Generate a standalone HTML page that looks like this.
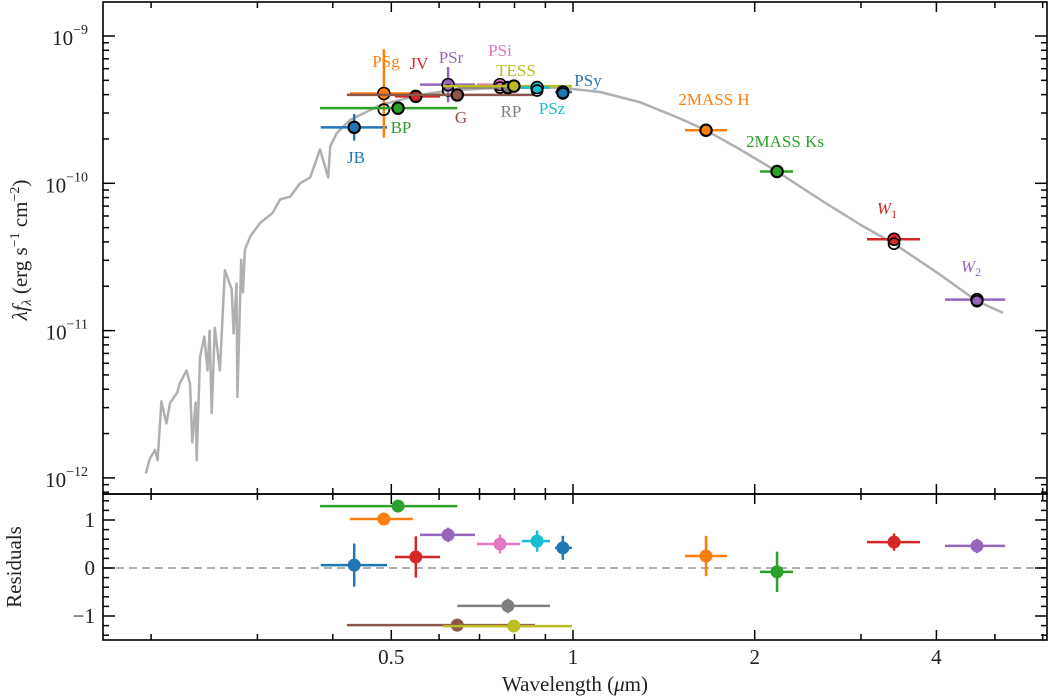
<!DOCTYPE html>
<html><head><meta charset="utf-8"><style>
html,body{margin:0;padding:0;background:#fff;}
svg{display:block;font-family:"Liberation Serif","DejaVu Serif",serif;}
</style></head><body>
<svg id="chart" width="1050" height="698" viewBox="0 0 1050 698"></svg>
<script>
// ---- data ----
const specWave=[0.196,0.199,0.203,0.205,0.208,0.212,0.215,0.221,0.223,0.229,0.232,0.234,0.237,0.238,0.241,0.245,0.248,0.250,0.252,0.255,0.260,0.265,0.272,0.274,0.277,0.278,0.282,0.284,0.286,0.292,0.303,0.318,0.327,0.340,0.353,0.367,0.381,0.393,0.396,0.406,0.427,0.479,0.558,0.625,0.757,0.951,1.109,1.292,1.504,1.661,1.891,2.178,2.566,2.989,3.403,4.056,4.670,5.16];
const specLogFlux=[-11.97,-11.87,-11.81,-11.88,-11.48,-11.63,-11.49,-11.42,-11.36,-11.27,-11.36,-11.76,-11.49,-11.88,-11.18,-11.04,-11.27,-11.00,-11.56,-10.98,-11.27,-10.59,-10.72,-11.02,-10.68,-11.45,-10.52,-10.74,-10.45,-10.36,-10.27,-10.20,-10.11,-10.09,-10.00,-9.96,-9.77,-9.96,-9.75,-9.66,-9.57,-9.47,-9.40,-9.37,-9.35,-9.35,-9.38,-9.45,-9.56,-9.64,-9.77,-9.92,-10.11,-10.28,-10.41,-10.62,-10.80,-10.88];
const bandNames=["JB","PSg","BP","JV","PSr","G","PSi","RP","TESS","PSz","PSy","2MASS H","2MASS Ks","W1","W2"];
const bandColors=["#1f77b4","#ff7f0e","#2ca02c","#d62728","#9467bd","#8c564b","#e377c2","#7f7f7f","#bcbd22","#17becf","#1f77b4","#ff7f0e","#2ca02c","#d62728","#9467bd"];
const bandWave=[0.434,0.486,0.513,0.549,0.621,0.643,0.757,0.780,0.798,0.872,0.962,1.661,2.178,3.403,4.670];
const bandWaveLo=[0.382,0.427,0.381,0.507,0.558,0.422,0.693,0.643,0.609,0.823,0.934,1.533,2.041,3.07,4.133];
const bandWaveHi=[0.492,0.543,0.643,0.602,0.688,0.865,0.817,0.916,0.996,0.916,0.996,1.80,2.315,3.758,5.20];
const bandLogFlux=[-9.62,-9.39,-9.49,-9.41,-9.33,-9.40,-9.33,-9.35,-9.34,-9.35,-9.38,-9.64,-9.92,-10.38,-10.79];
const bandLogErr=[0.09,0.30,0.02,0.04,0.12,0.02,0.04,0.02,0.02,0.04,0.03,0.02,0.02,0.02,0.02];
const modelLogFlux=[-9.62,-9.50,-9.49,-9.41,-9.37,-9.40,-9.35,-9.35,-9.34,-9.37,-9.39,-9.64,-9.92,-10.41,-10.80];
const residVals=[0.06,1.02,1.29,0.23,0.69,-1.19,0.50,-0.79,-1.21,0.56,0.42,0.25,-0.08,0.54,0.46];
const residErr=[0.45,0.05,0.05,0.43,0.15,0.05,0.20,0.15,0.05,0.22,0.25,0.42,0.42,0.18,0.15];
const xTickVals=[0.5,1,2,4];
const xTickLabels=["0.5","1","2","4"];
const yTickExp=[-9,-10,-11,-12];
const rTickVals=[1,0,-1];
const rTickLabels=["1","0","\u22121"];

// ---- geometry ----
const L=103,R=1047,T=2,MB=494,RB=640;
const X=l=>573+181.7*Math.log2(l);
const Y=lf=>36+(-9-lf)*147.3;
const RY=r=>568-48*r;
const NS="http://www.w3.org/2000/svg";
const svg=document.getElementById('chart');
function mk(tag,attrs,parent){const e=document.createElementNS(NS,tag);for(const k in attrs)e.setAttribute(k,attrs[k]);(parent||svg).appendChild(e);return e;}

const defs=mk('defs',{});
const c1=mk('clipPath',{id:'cm'},defs);mk('rect',{x:L,y:T,width:R-L,height:MB-T},c1);
const c2=mk('clipPath',{id:'cr'},defs);mk('rect',{x:L,y:MB,width:R-L,height:RB-MB},c2);
const gMain=mk('g',{'clip-path':'url(#cm)'});


const gRes=mk('g',{'clip-path':'url(#cr)'});



let d='';
for(let i=0;i<specWave.length;i++)d+=(i?'L':'M')+X(specWave[i]).toFixed(1)+','+Y(specLogFlux[i]).toFixed(1);
const sp=mk('path',{d:d,fill:'none',stroke:'#b0b0b0','stroke-width':2.5,'stroke-linejoin':'round'},gMain);



const zl=mk('line',{x1:L,x2:R,y1:RY(0),y2:RY(0),stroke:'#b0b0b0','stroke-width':2,'stroke-dasharray':'8,5'},gRes);



for(let i=0;i<bandNames.length;i++){
  const c=bandColors[i],x=X(bandWave[i]),y=Y(bandLogFlux[i]);
  const g=mk('g',{},gMain);
  
  
  mk('line',{x1:X(bandWaveLo[i]),x2:X(bandWaveHi[i]),y1:y,y2:y,stroke:c,'stroke-width':2.5},g);
  mk('line',{x1:x,x2:x,y1:Y(bandLogFlux[i]+bandLogErr[i]),y2:Y(bandLogFlux[i]-bandLogErr[i]),stroke:c,'stroke-width':2.5},g);
  mk('circle',{cx:x,cy:y,r:6,fill:c,stroke:'#000','stroke-width':1.5},g);
  const m=mk('circle',{cx:x,cy:Y(modelLogFlux[i]),r:5.5,fill:'none',stroke:'#000','stroke-width':1.7},gMain);
  
  
  const ry=RY(residVals[i]);
  const h=mk('g',{},gRes);
  
  
  mk('line',{x1:X(bandWaveLo[i]),x2:X(bandWaveHi[i]),y1:ry,y2:ry,stroke:c,'stroke-width':2.5},h);
  mk('line',{x1:x,x2:x,y1:RY(residVals[i]+residErr[i]),y2:RY(residVals[i]-residErr[i]),stroke:c,'stroke-width':2.5},h);
  mk('circle',{cx:x,cy:ry,r:6.5,fill:c},h);
}

const labs=[["JB",356,163,"#1f77b4"],["PSg",386,67,"#ff7f0e"],["JV",419,69,"#d62728"],["PSr",451,63,"#9467bd"],["PSi",500,56,"#e377c2"],["TESS",516,76,"#bcbd22"],["PSy",588,86,"#1f77b4"],["BP",401,133,"#2ca02c"],["G",461,123,"#8c564b"],["RP",511,117,"#7f7f7f"],["PSz",552,114,"#17becf"],["2MASS H",714,105,"#ff7f0e"],["2MASS Ks",785,147,"#2ca02c"]];
for(const a of labs){
  const t=mk('text',{x:a[1],y:a[2],fill:a[3],'font-size':17,'text-anchor':'middle'});
  t.textContent=a[0];
  
  
}
for(const a of [["1",887,214,"#d62728"],["2",971,272,"#9467bd"]]){
  const t=mk('text',{x:a[1],y:a[2],fill:a[3],'font-size':17,'text-anchor':'middle'});
  const s1=mk('tspan',{'font-style':'italic'},t);s1.textContent='W';
  const s2=mk('tspan',{'font-size':12,dy:4},t);s2.textContent=a[0];
  
  
}

for(const f of [[T,MB,'main-frame'],[MB,RB,'residual-frame']]){
  const r=mk('rect',{x:L,y:f[0],width:R-L,height:f[1]-f[0],fill:'none',stroke:'#000','stroke-width':1.6});
  
  
}

const xt=mk('g',{stroke:'#000','stroke-width':1.5});


const xMinor=[0.2,0.3,0.4,0.6,0.7,0.8,0.9,3,5,6];
for(const v of xTickVals.concat(xMinor)){
  const x=X(v);if(x<L||x>R)continue;const len=xTickVals.includes(v)?10:6;
  for(const [y0,dir] of [[T,1],[MB,-1],[MB,1],[RB,-1]])mk('line',{x1:x,x2:x,y1:y0,y2:y0+dir*len},xt);
}
xTickVals.forEach((v,i)=>{
  const t=mk('text',{x:X(v),y:664,'font-size':21,'text-anchor':'middle',fill:'#222'});
  t.textContent=xTickLabels[i];
  
  
});

const yt=mk('g',{stroke:'#000','stroke-width':1.5});


for(let e=-13;e<=-9;e++){
  for(let m=1;m<10;m++){
    const y=Y(e+Math.log10(m));if(y<T||y>MB)continue;const len=m===1?12:6;
    mk('line',{x1:L,x2:L+len,y1:y,y2:y},yt);mk('line',{x1:R,x2:R-len,y1:y,y2:y},yt);
  }
}
yTickExp.forEach(e=>{
  const t=mk('text',{x:88,y:Y(e)+9,'font-size':21,'text-anchor':'end',fill:'#222'});
  const a=mk('tspan',{},t);a.textContent='10';
  const b=mk('tspan',{'font-size':14,dy:-11},t);b.textContent='\u2212'+(-e);
  
  
});
for(let k=-7;k<=7;k++){
  const v=k*0.2,y=RY(v);if(y<MB||y>RB)continue;const len=(k%5===0)?12:6;
  mk('line',{x1:L,x2:L+len,y1:y,y2:y},yt);mk('line',{x1:R,x2:R-len,y1:y,y2:y},yt);
}
rTickVals.forEach((v,i)=>{
  const t=mk('text',{x:95,y:RY(v)+7,'font-size':21,'text-anchor':'end',fill:'#222'});
  t.textContent=rTickLabels[i];
  
  
});

const xl=mk('text',{x:575,y:691,'font-size':21,'text-anchor':'middle',fill:'#222'});
xl.innerHTML='Wavelength (<tspan font-style="italic">\u03bc</tspan>m)';


const yl=mk('text',{x:0,y:0,'font-size':21,'text-anchor':'middle',fill:'#222',transform:'translate(27,250) rotate(-90)'});
yl.innerHTML='<tspan font-style="italic">\u03bbf</tspan><tspan font-size="14" dy="4" font-style="italic">\u03bb</tspan><tspan dy="-4"> (erg s</tspan><tspan font-size="14" dy="-8">\u22121</tspan><tspan dy="8"> cm</tspan><tspan font-size="14" dy="-8">\u22122</tspan><tspan dy="8">)</tspan>';


const rl=mk('text',{x:0,y:0,'font-size':21,'text-anchor':'middle',fill:'#222',transform:'translate(21,567) rotate(-90)'});
rl.textContent='Residuals';


</script>
</body></html>
